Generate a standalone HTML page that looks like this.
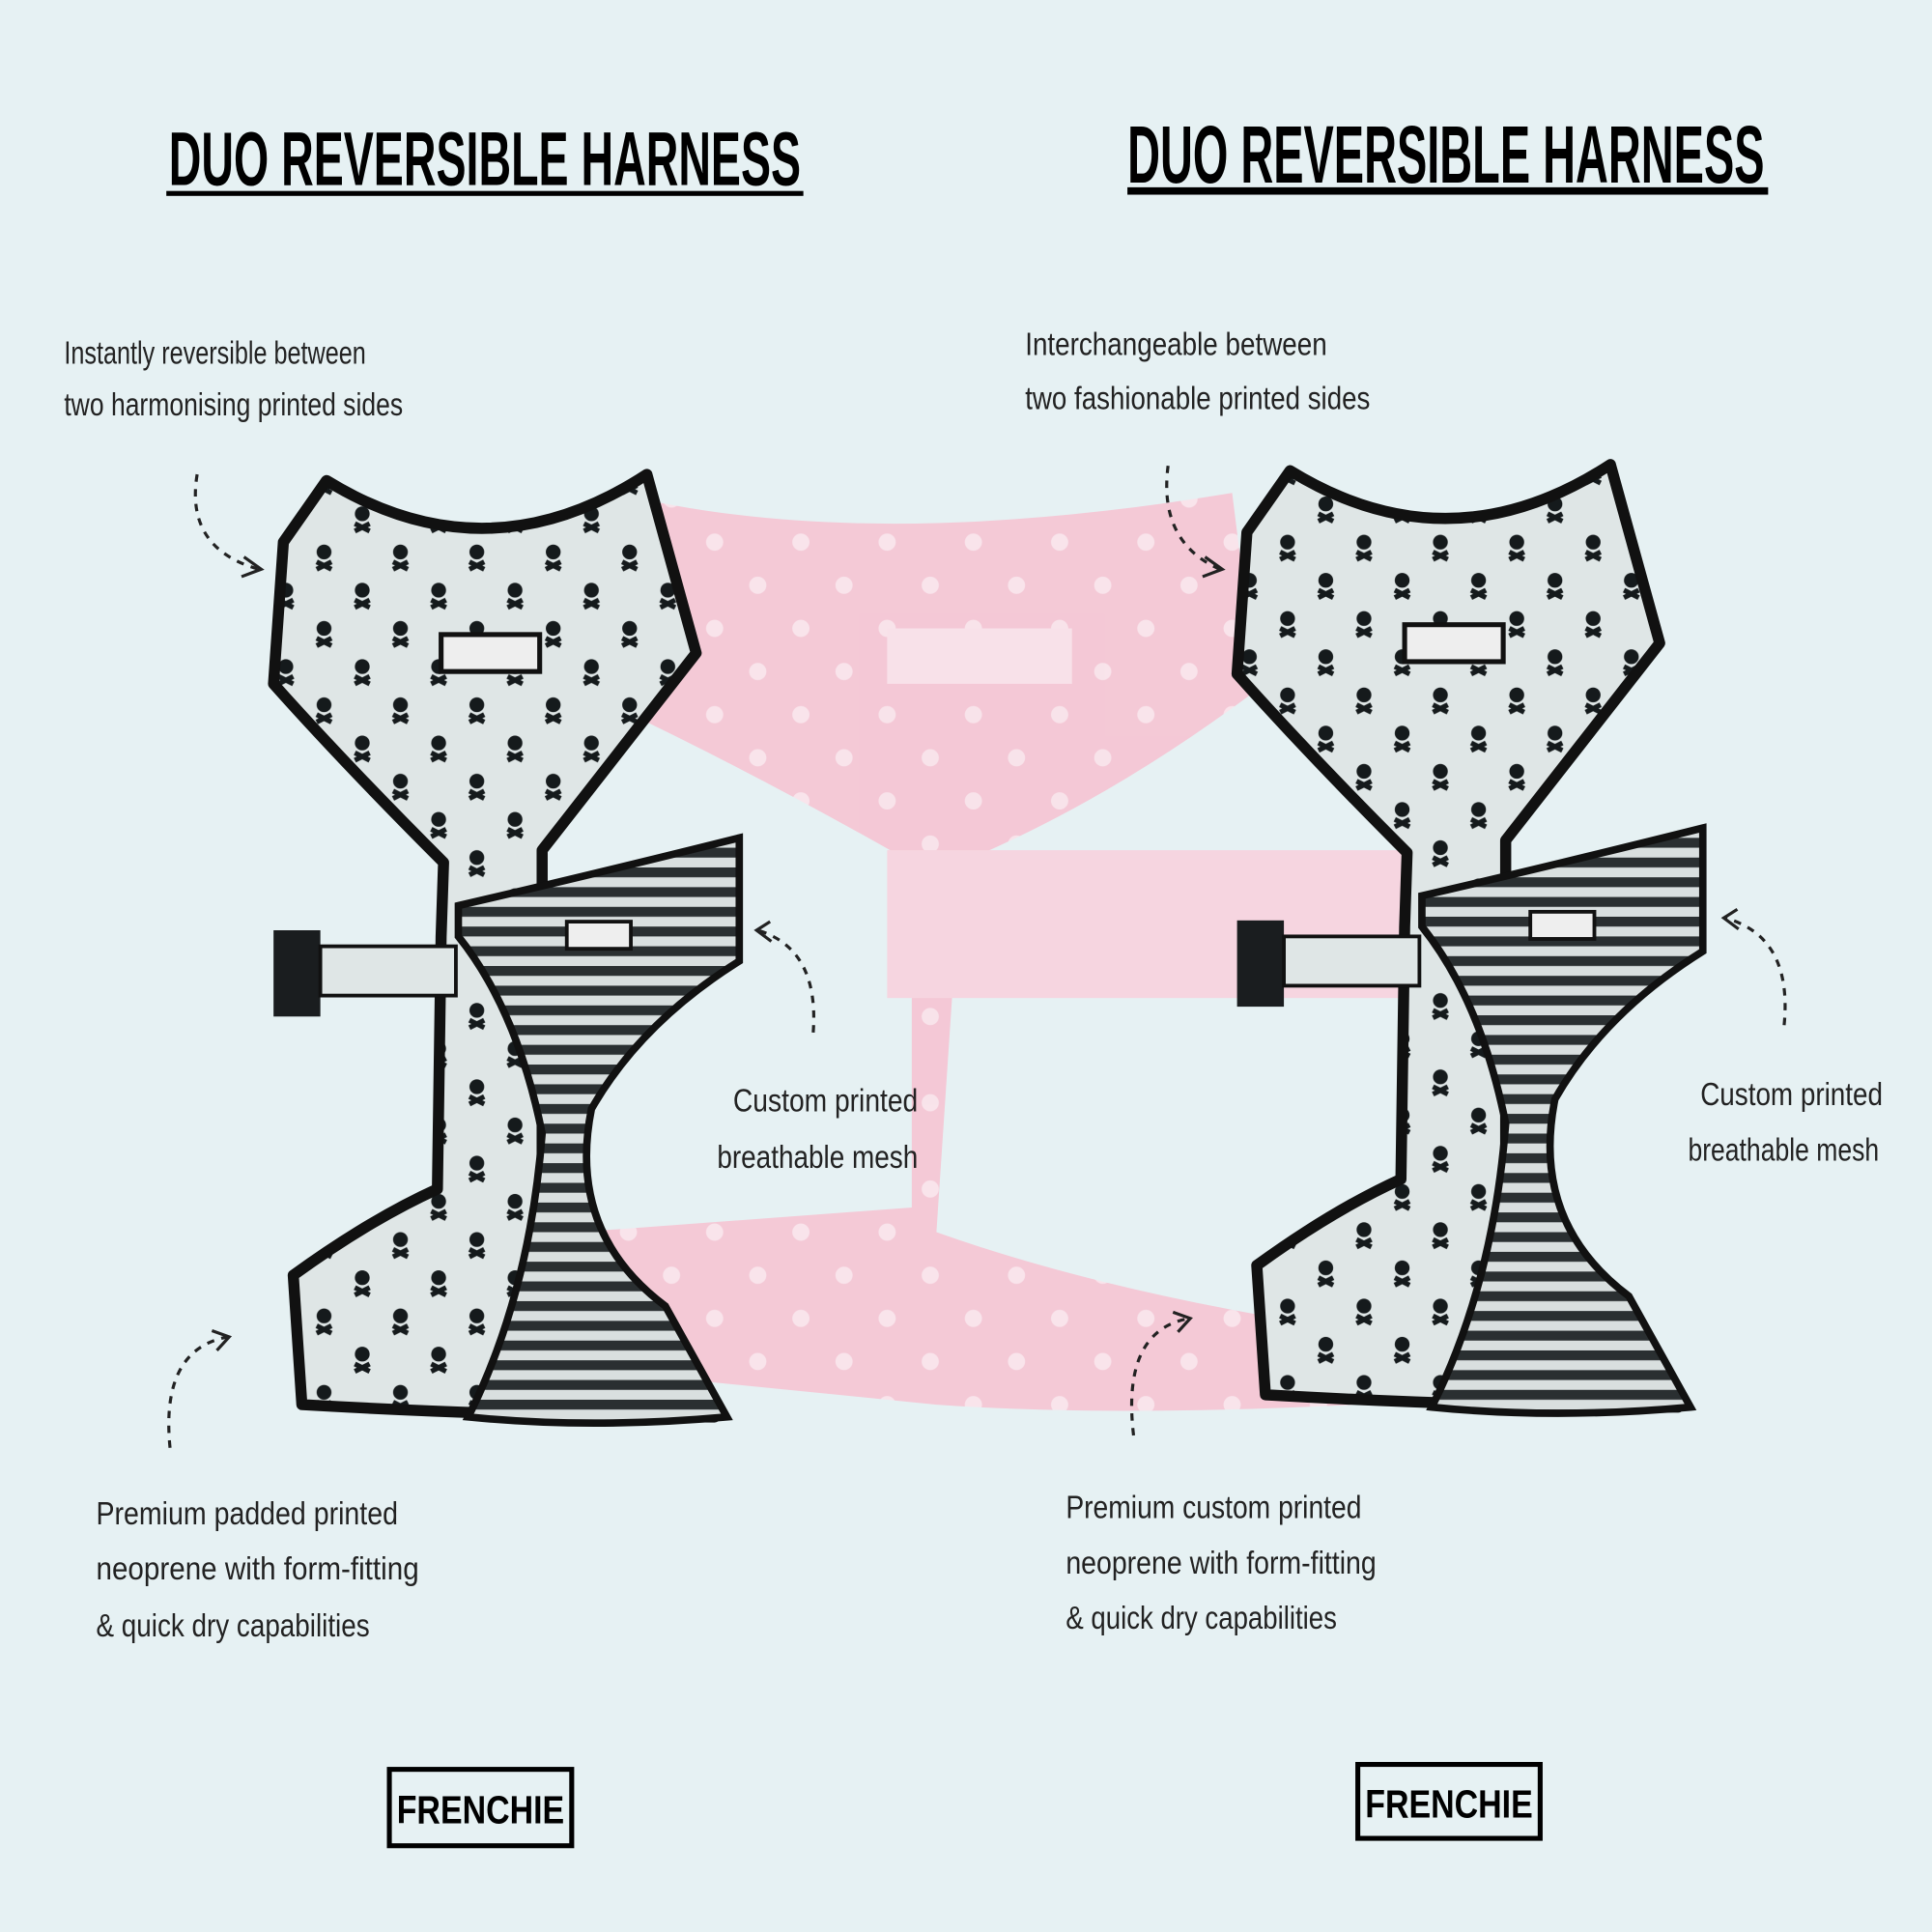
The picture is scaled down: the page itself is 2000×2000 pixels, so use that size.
<!DOCTYPE html>
<html><head><meta charset="utf-8"><style>
html,body{margin:0;padding:0;background:#e6f1f3;}
svg{display:block;}
text{font-family:"Liberation Sans",sans-serif;}
</style></head><body>
<svg width="2000" height="2000" viewBox="0 0 1568 1568" xmlns="http://www.w3.org/2000/svg">
<defs>
<pattern id="sk" width="62" height="62" patternUnits="userSpaceOnUse">
<rect width="62" height="62" fill="#dfe6e6"/>
<g fill="#151a1c"><circle cx="15" cy="14" r="6"/><path d="M9 22 L21 28 M21 22 L9 28" stroke="#151a1c" stroke-width="4"/>
<circle cx="46" cy="45" r="6"/><path d="M40 53 L52 59 M52 53 L40 59" stroke="#151a1c" stroke-width="4"/></g>
</pattern>
<pattern id="st" width="16" height="16" patternUnits="userSpaceOnUse">
<rect width="16" height="16" fill="#d9dfdf"/><rect width="16" height="8" fill="#2a2f31"/>
</pattern>
<pattern id="pk" width="70" height="70" patternUnits="userSpaceOnUse">
<rect width="70" height="70" fill="#f6c4d3"/><circle cx="20" cy="20" r="7" fill="#fbe2ea"/><circle cx="55" cy="55" r="7" fill="#fbe2ea"/>
</pattern>
<g id="h">
<path d="M265,390 Q395,470 525,385 L565,530 L440,690 L440,1000 L560,1100 L580,1150 Q420,1150 245,1140 L238,1035 Q300,990 355,965 L358,760 L360,700 Q280,620 222,555 L230,440 Z" fill="url(#sk)" stroke="#111" stroke-width="9" stroke-linejoin="round"/>
<path d="M372,735 Q480,710 600,680 L600,780 Q520,830 480,900 Q460,1000 540,1060 L590,1150 Q480,1160 380,1150 Q430,1050 440,920 Q420,820 372,760 Z" fill="url(#st)" stroke="#111" stroke-width="6"/>
<rect x="222" y="755" width="38" height="70" fill="#1a1d1f"/>
<rect x="260" y="768" width="110" height="40" fill="#dfe6e6" stroke="#111" stroke-width="3"/>
<rect x="358" y="515" width="80" height="30" fill="#eee" stroke="#111" stroke-width="4"/>
<rect x="460" y="748" width="52" height="22" fill="#eee" stroke="#111" stroke-width="3"/>
</g>
</defs>
<rect width="1568" height="1568" fill="#e6f1f3"/>

<g opacity="0.9">
<path d="M500,400 Q700,450 1000,400 L1020,560 Q900,650 780,700 L760,1000 Q900,1050 1100,1080 L1100,1140 Q900,1150 760,1140 L460,1110 L470,1000 L740,980 L740,700 Q600,620 470,560 Z" fill="url(#pk)"/>
<rect x="720" y="510" width="150" height="45" fill="#fbe0e8"/>
<rect x="720" y="690" width="420" height="120" fill="#f8d2de"/>
</g>

<use href="#h"/>
<use href="#h" transform="translate(782,-8)"/>

<text x="137" y="150" font-size="62" font-weight="bold" textLength="513" lengthAdjust="spacingAndGlyphs" fill="#000">DUO REVERSIBLE HARNESS</text>
<rect x="135" y="155" width="517" height="4" fill="#000"/>
<text x="915" y="148" font-size="66" font-weight="bold" textLength="517" lengthAdjust="spacingAndGlyphs" fill="#000">DUO REVERSIBLE HARNESS</text>
<rect x="915" y="152" width="520" height="6" fill="#000"/>

<g font-size="26" fill="#222">
<text x="52" y="295" textLength="245" lengthAdjust="spacingAndGlyphs">Instantly reversible between</text>
<text x="52" y="337" textLength="275" lengthAdjust="spacingAndGlyphs">two harmonising printed sides</text>
<text x="832" y="288" textLength="245" lengthAdjust="spacingAndGlyphs">Interchangeable between</text>
<text x="832" y="332" textLength="280" lengthAdjust="spacingAndGlyphs">two fashionable printed sides</text>
<text x="595" y="902" textLength="150" lengthAdjust="spacingAndGlyphs">Custom printed</text>
<text x="582" y="948" textLength="163" lengthAdjust="spacingAndGlyphs">breathable mesh</text>
<text x="1380" y="897" textLength="148" lengthAdjust="spacingAndGlyphs">Custom printed</text>
<text x="1370" y="942" textLength="155" lengthAdjust="spacingAndGlyphs">breathable mesh</text>
<text x="78" y="1237" textLength="245" lengthAdjust="spacingAndGlyphs">Premium padded printed</text>
<text x="78" y="1282" textLength="262" lengthAdjust="spacingAndGlyphs">neoprene with form-fitting</text>
<text x="78" y="1328" textLength="222" lengthAdjust="spacingAndGlyphs">&amp; quick dry capabilities</text>
<text x="865" y="1232" textLength="240" lengthAdjust="spacingAndGlyphs">Premium custom printed</text>
<text x="865" y="1277" textLength="252" lengthAdjust="spacingAndGlyphs">neoprene with form-fitting</text>
<text x="865" y="1322" textLength="220" lengthAdjust="spacingAndGlyphs">&amp; quick dry capabilities</text>
</g>

<g fill="none" stroke="#222" stroke-width="2.5" stroke-dasharray="6 6">
<path d="M160,385 Q150,445 210,462"/>
<path d="M948,378 Q940,440 990,462"/>
<path d="M660,838 Q665,770 615,755"/>
<path d="M1448,832 Q1455,760 1400,745"/>
<path d="M138,1175 Q130,1095 185,1085"/>
<path d="M920,1165 Q910,1080 965,1070"/>
</g>
<g fill="none" stroke="#222" stroke-width="2.5">
<path d="M198,452 L212,462 L196,468"/><path d="M978,452 L992,462 L976,468"/>
<path d="M625,748 L614,755 L626,764"/><path d="M1410,738 L1399,745 L1411,754"/>
<path d="M172,1080 L186,1085 L176,1096"/><path d="M952,1065 L966,1070 L956,1081"/>
</g>

<rect x="316" y="1436" width="148" height="62" fill="none" stroke="#000" stroke-width="4"/>
<text x="322" y="1480" font-size="32" font-weight="bold" textLength="136" lengthAdjust="spacingAndGlyphs">FRENCHIE</text>
<rect x="1102" y="1432" width="148" height="60" fill="none" stroke="#000" stroke-width="4"/>
<text x="1108" y="1475" font-size="32" font-weight="bold" textLength="136" lengthAdjust="spacingAndGlyphs">FRENCHIE</text>
</svg>
</body></html>
